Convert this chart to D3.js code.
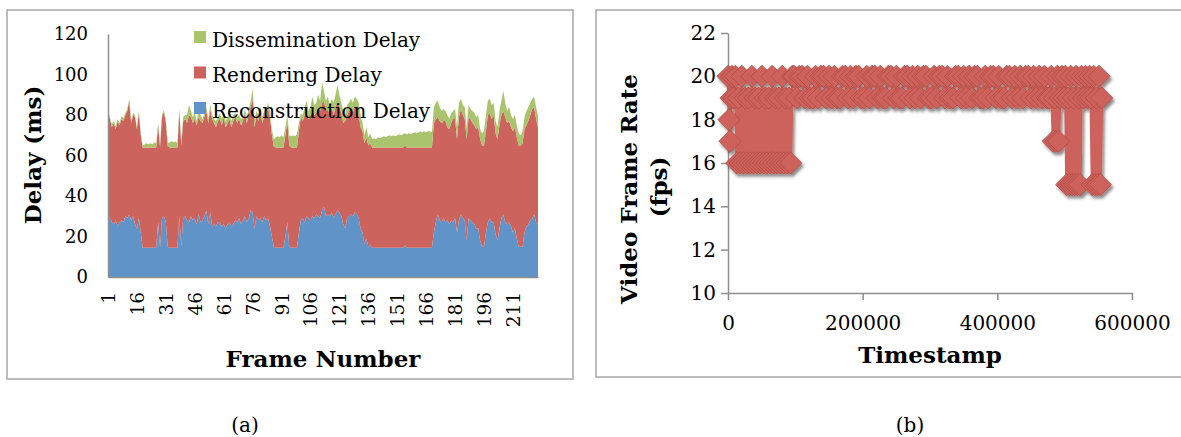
<!DOCTYPE html>
<html>
<head>
<meta charset="utf-8">
<script src="https://cdn.jsdelivr.net/npm/d3@7"></script>
<style>
  body { margin: 0; background: #fff; }
  svg text { font-family: 'DejaVu Serif', serif; fill: #000; }
</style>
</head>
<body>
<div id="chart"></div>
<script>
// ---- panel (a): stacked delay per frame ----
const reconstructionDelay = [
  31,29,27,26,28,25,27,28,27,30, 29,31,28,30,26,24,29,22,14.5,14.5,
  14.5,14.5,14.5,14.5,14.5,14.5,27,14.5,29,30, 27,15,14.5,14.5,14.5,14.5,14.5,30,15,29,
  30,28,27,30,28,29,26,31,27,28, 30,33,26,32,25,26,25,27,27,25,
  26,24,26,27,25,26,28,27,29,26, 28,30,27,29,33,32,24,30,28,29,
  27,30,28,29,25,20,15,14.5,14.5,14.5, 14.5,14.5,20,27,15,14.5,14.5,14.5,14.5,22,
  28,29,27,30,29,28,30,29,31,30, 29,33,35,30,31,30,32,29,31,33,
  32,30,26,24,29,30,31,30,32,31, 29,24,22,16,19,15,16,14.5,14.5,14.5,
  14.5,14.5,14.5,14.5,14.5,14.5,14.5,14.5,14.5,14.5, 14.5,14.5,14.5,14.5,15.5,14.5,14.5,14.5,14.5,14.5,
  14.5,14.5,14.5,14.5,14.5,14.5,14.5,14.5,14.5,22, 27,31,28,27,29,27,28,26,28,27,
  29,22,28,31,29,28,18,29,28,27, 26,24,24,18,15,15,22,27,29,27,
  27,21,18,24,29,31,27,26,27,25, 22,24,19,15,15,15,22,25,26,28,
  29,31,27,26
];
const renderingDelay = [
  50,49,47,50,45,52,48,50,50,50, 53,56,48,50,53,49,52,48,49.5,49.5,
  49.5,49.5,49.5,49.5,49.5,49.5,48,49.5,50,51.5, 49,49.5,49.5,49.5,49.5,49.5,49.5,52,50,48,
  48,48,53,49,48,49,49,48,50,48, 49,49,50,51,53,50,49,50,51,50,
  53,50,50,51,49,51,51,49,49,49, 49,51,49,51,51,56,50,50,49,53,
  49,49,52,55,54,50,49.5,49.5,49.5,49.5, 49.5,49.5,50,50,50,49.5,49.5,49.5,49.5,50,
  51,48,53,52,49,51,53,51,50,54, 53,53,52,52,52,50,52,51,53,53,
  52,51,50,53,51,52,52,51,52,52, 51,50,50,50,50,50,50,49.5,49.5,49.5,
  49.5,49.5,49.5,49.5,49.5,49.5,49.5,49.5,49.5,49.5, 49.5,49.5,49.5,49.5,49.5,49.5,49.5,49.5,49.5,49.5,
  49.5,49.5,49.5,49.5,49.5,49.5,49.5,49.5,49.5,54, 51,48,49,49,48,50,46,47,48,51,
  49,46,51,52,51,50,50,50,50,49, 49,49,50,50,50,50,50,53,52,51,
  53,50,50,51,51,51,52,50,50,49, 50,50,50,50,50,51,51,50,51,52,
  54,53,51,48
];
const disseminationDelay = [
  1,1,1.5,1,1.5,1,1,1.5,1.5,1, 1,1,1,1,1,1,1,1,1,1.5,
  2,1.5,2,1.5,2.5,2,1,1.5,1,1, 1.5,1.5,2.5,3,2.5,3,2,1,1.5,2,
  2,4,5,3,3,3,2,3,3,2, 2,2,2,2,2,2,3,2,3,3,
  3,3,3,2,3,3,2,3,2,3, 2,2,3,3,3,5,4,2,3,2,
  3,3,3,2,3,3,3.5,5,5.5,5, 6,5,4,3,5,5.5,6,5.5,6.5,4,
  2,3,4,5,4,5,6,5,5,6, 5,10,5,5,6,5,4,6,6,9,
  6,5,6,3,5,4,5,5,5,5, 6,6,4,4,5,4,5,4,4.5,4,
  5,4.5,5,5.5,5,5.5,6,5.5,6,5.5, 6,6.5,6,6.5,6,6.5,7,6.5,7,7.5,
  7,7.5,8,7.5,8,7.5,8,8,7.5,8, 8,8,7,6,6,5,6,5,5,4,
  5,6,7,5,5,6,6,6,5,6, 6,6,6,5,6,7,8,7,7,7,
  6,6,6,7,7,10,7,6,7,6, 6,6,6,6,5,6,6,7,7,6,
  5,5,6,6
];
const seriesNames = ['Dissemination Delay', 'Rendering Delay', 'Reconstruction Delay'];
const delayTicks = [0, 20, 40, 60, 80, 100, 120];
const frameTicks = [1, 16, 31, 46, 61, 76, 91, 106, 121, 136, 151, 166, 181, 196, 211];

// ---- panel (b): frame rate over time (timestamp ms, fps) ----
const fpsPoints = [
  [0,20],[1500,18],[3000,17],[4500,19],[6000,20],[8500,19],[11000,20],
  [13000,16],[15500,19],[18000,16],[20500,20],[23000,16],[25500,19],[28000,16],[30500,19],
  [33000,16],[35500,20],[38000,16],[40500,19],[43000,16],[45500,19],[48000,16],[50500,20],
  [53000,16],[55500,19],[58000,16],[60500,19],[63000,16],[65500,20],[68000,16],[70500,19],
  [73000,16],[75500,19],[78000,16],[80500,20],[83000,16],[85500,19],[88000,16],[90500,19],
  [93000,16],[95500,20],
  [98000,20],[102000,19],[106000,20],[110000,20],[114000,19],[118000,20],[122000,19],[126000,19],
  [130000,20],[134000,19],[138000,20],[142000,20],[146000,19],[150000,20],[154000,19],[158000,20],
  [162000,19],[166000,19],[170000,20],[174000,20],[178000,19],[182000,20],[186000,19],[190000,20],
  [194000,20],[198000,19],[202000,19],[206000,20],[210000,19],[214000,20],[218000,20],[222000,19],
  [226000,20],[230000,19],[234000,19],[238000,20],[242000,20],[246000,19],[250000,20],[254000,19],
  [258000,19],[262000,20],[266000,20],[270000,19],[274000,20],[278000,19],[282000,20],[286000,19],
  [290000,20],[294000,20],[298000,19],[302000,19],[306000,20],[310000,19],[314000,20],[318000,20],
  [322000,19],[326000,20],[330000,19],[334000,19],[338000,20],[342000,20],[346000,19],[350000,20],
  [354000,19],[358000,20],[362000,19],[366000,20],[370000,20],[374000,19],[378000,19],[382000,20],
  [386000,19],[390000,20],[394000,20],[398000,19],[402000,20],[406000,19],[410000,19],[414000,20],
  [418000,20],[422000,19],[426000,20],[430000,19],[434000,20],[438000,19],[442000,20],[446000,20],
  [450000,19],[454000,20],[458000,19],[462000,20],[466000,19],[470000,20],[474000,19],
  [477000,19],[480000,20],[483000,17],[485000,19],[487000,17],[489000,20],[491000,17],[493000,19],
  [496000,20],[499000,19],[501000,20],
  [503000,15],[505000,19],[507000,15],[509000,20],[511000,15],[513000,19],[515000,15],[517000,20],
  [519000,15],[521000,19],[523000,15],[525000,20],
  [528000,19],[531000,20],[534000,19],[537000,20],[539000,19],
  [541000,15],[543000,20],[545000,15],[547000,19],[549000,15],[551000,20],[553000,15],[555000,19]
];
const fpsTicks = [10, 12, 14, 16, 18, 20, 22];
const timeTicks = [0, 200000, 400000, 600000];

const colors = {
  'Reconstruction Delay': '#6093c8',
  'Rendering Delay': '#cc635d',
  'Dissemination Delay': '#a9c46c'
};
const axisGray = '#8e8e8e';

const svg = d3.select('#chart').append('svg')
  .attr('width', 1181)
  .attr('height', 437)
  .style('display', 'block');

svg.append('rect').attr('width', 1181).attr('height', 437).attr('fill', '#fff');

// panel frames
svg.append('rect')
  .attr('x', 7).attr('y', 10).attr('width', 566).attr('height', 369)
  .attr('fill', 'none').attr('stroke', '#a6a6a6').attr('stroke-width', 1.5);
svg.append('rect')
  .attr('x', 596).attr('y', 10).attr('width', 640).attr('height', 367)
  .attr('fill', 'none').attr('stroke', '#a6a6a6').attr('stroke-width', 1.5);

// ================= panel (a) =================
const table = reconstructionDelay.map((v, i) => ({
  frame: i + 1,
  reconstruction: v,
  rendering: renderingDelay[i],
  dissemination: disseminationDelay[i]
}));
const layers = d3.stack().keys(['reconstruction', 'rendering', 'dissemination'])(table);
const layerColor = {
  reconstruction: colors['Reconstruction Delay'],
  rendering: colors['Rendering Delay'],
  dissemination: colors['Dissemination Delay']
};

const xA = d3.scaleLinear().domain([1, table.length]).range([108, 538]);
const yA = d3.scaleLinear().domain([0, 120]).range([277, 34]);

const areaGen = d3.area()
  .x(d => xA(d.data.frame))
  .y0(d => yA(d[0]))
  .y1(d => yA(d[1]));

const gA = svg.append('g');
gA.selectAll('path.layer')
  .data(layers)
  .enter()
  .append('path')
  .attr('class', 'layer')
  .attr('d', areaGen)
  .attr('fill', d => layerColor[d.key]);

const yAxisA = gA.append('g')
  .attr('transform', 'translate(108,0)')
  .call(d3.axisLeft(yA).tickValues(delayTicks).tickSize(0).tickPadding(20));
yAxisA.select('.domain').attr('stroke', axisGray).attr('stroke-width', 1.5);
yAxisA.selectAll('.tick text')
  .style('font-family', 'DejaVu Serif')
  .style('font-size', '18px');

const xAxisA = gA.append('g')
  .attr('transform', 'translate(0,277)')
  .call(d3.axisBottom(xA).tickValues(frameTicks).tickSize(0).tickFormat(d3.format('d')));
xAxisA.select('.domain').attr('stroke', axisGray).attr('stroke-width', 1.5);
xAxisA.selectAll('.tick text')
  .style('font-family', 'DejaVu Serif')
  .style('font-size', '18.5px')
  .attr('text-anchor', 'end')
  .attr('transform', 'rotate(-90)')
  .attr('x', -15)
  .attr('y', 0)
  .attr('dy', '0.35em');

gA.append('text')
  .attr('transform', 'translate(41,155) rotate(-90)')
  .attr('text-anchor', 'middle')
  .style('font-weight', 'bold')
  .style('font-size', '23px')
  .text('Delay (ms)');

gA.append('text')
  .attr('x', 323).attr('y', 367)
  .attr('text-anchor', 'middle')
  .style('font-weight', 'bold')
  .style('font-size', '23px')
  .text('Frame Number');

// legend
const legend = gA.append('g');
seriesNames.forEach((name, i) => {
  const ly = 31 + i * 35.5;
  legend.append('rect')
    .attr('x', 194).attr('y', ly).attr('width', 12).attr('height', 12)
    .attr('fill', colors[name]);
  legend.append('text')
    .attr('x', 212).attr('y', ly + 15.5)
    .style('font-size', '20px')
    .text(name);
});

gA.append('text')
  .attr('x', 245).attr('y', 432)
  .attr('text-anchor', 'middle')
  .style('font-size', '20px')
  .text('(a)');

// ================= panel (b) =================
const xB = d3.scaleLinear().domain([0, 600000]).range([728, 1132]);
const yB = d3.scaleLinear().domain([10, 22]).range([293, 33]);

const defs = svg.append('defs');
const shadow = defs.append('filter')
  .attr('id', 'markerShadow')
  .attr('x', '-20%').attr('y', '-20%')
  .attr('width', '140%').attr('height', '140%');
shadow.append('feDropShadow')
  .attr('dx', 2).attr('dy', 3)
  .attr('stdDeviation', 1.6)
  .attr('flood-color', '#000')
  .attr('flood-opacity', 0.45);

const gB = svg.append('g');

const yAxisB = gB.append('g')
  .attr('transform', 'translate(728,0)')
  .call(d3.axisLeft(yB).tickValues(fpsTicks).tickSizeInner(7).tickSizeOuter(0).tickPadding(5));
yAxisB.select('.domain').attr('stroke', axisGray).attr('stroke-width', 1.5);
yAxisB.selectAll('.tick line').attr('stroke', axisGray).attr('stroke-width', 1.5);
yAxisB.selectAll('.tick text')
  .style('font-family', 'DejaVu Serif')
  .style('font-size', '20px');

const xAxisB = gB.append('g')
  .attr('transform', 'translate(0,293)')
  .call(d3.axisBottom(xB).tickValues(timeTicks).tickSizeInner(7).tickSizeOuter(0)
    .tickPadding(16).tickFormat(d3.format('d')));
xAxisB.select('.domain').attr('stroke', axisGray).attr('stroke-width', 1.5);
xAxisB.selectAll('.tick line').attr('stroke', axisGray).attr('stroke-width', 1.5);
xAxisB.selectAll('.tick text')
  .style('font-family', 'DejaVu Serif')
  .style('font-size', '20px');

const markColor = '#cd625c';
const plotB = gB.append('g').attr('filter', 'url(#markerShadow)');

const lineGen = d3.line()
  .x(d => xB(d[0]))
  .y(d => yB(d[1]));

plotB.append('path')
  .attr('d', lineGen(fpsPoints))
  .attr('fill', 'none')
  .attr('stroke', markColor)
  .attr('stroke-width', 3)
  .attr('stroke-linejoin', 'round');

const diamond = d3.symbol().type(d3.symbolSquare).size(250);
plotB.selectAll('path.marker')
  .data(fpsPoints)
  .enter()
  .append('path')
  .attr('class', 'marker')
  .attr('d', diamond)
  .attr('transform', d => `translate(${xB(d[0])},${yB(d[1])}) rotate(45)`)
  .attr('fill', markColor)
  .attr('stroke', '#a9453f')
  .attr('stroke-width', 0.8)
  .attr('stroke-opacity', 0.8);

gB.append('text')
  .attr('transform', 'translate(637,189) rotate(-90)')
  .attr('text-anchor', 'middle')
  .style('font-weight', 'bold')
  .style('font-size', '23px')
  .text('Video Frame Rate');

gB.append('text')
  .attr('transform', 'translate(667,187) rotate(-90)')
  .attr('text-anchor', 'middle')
  .style('font-weight', 'bold')
  .style('font-size', '23px')
  .text('(fps)');

gB.append('text')
  .attr('x', 930).attr('y', 363)
  .attr('text-anchor', 'middle')
  .style('font-weight', 'bold')
  .style('font-size', '23px')
  .text('Timestamp');

gB.append('text')
  .attr('x', 910).attr('y', 432)
  .attr('text-anchor', 'middle')
  .style('font-size', '20px')
  .text('(b)');
</script>
</body>
</html>
